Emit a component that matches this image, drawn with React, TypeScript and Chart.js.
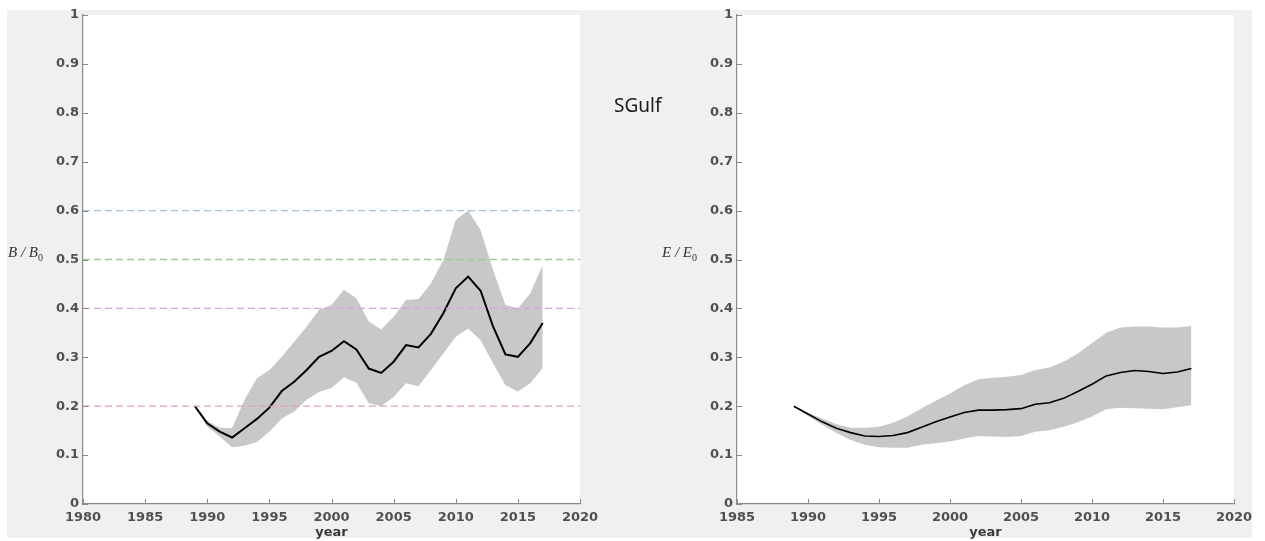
import React, { useEffect, useRef } from "react";
import { Chart, registerables } from "chart.js";

Chart.register(...registerables);

const years = [1989, 1990, 1991, 1992, 1993, 1994, 1995, 1996, 1997, 1998, 1999, 2000, 2001, 2002, 2003, 2004, 2005, 2006, 2007, 2008, 2009, 2010, 2011, 2012, 2013, 2014, 2015, 2016, 2017];

const bMedian = [0.200, 0.165, 0.148, 0.136, 0.155, 0.174, 0.197, 0.231, 0.250, 0.274, 0.301, 0.313, 0.333, 0.316, 0.277, 0.268, 0.291, 0.325, 0.320, 0.348, 0.390, 0.441, 0.465, 0.436, 0.363, 0.306, 0.301, 0.329, 0.370];
const bUpper = [0.200, 0.170, 0.156, 0.155, 0.213, 0.257, 0.274, 0.301, 0.332, 0.363, 0.397, 0.407, 0.438, 0.421, 0.373, 0.357, 0.383, 0.417, 0.419, 0.451, 0.499, 0.581, 0.600, 0.560, 0.479, 0.407, 0.400, 0.431, 0.489];
const bLower = [0.200, 0.158, 0.138, 0.116, 0.119, 0.127, 0.148, 0.175, 0.189, 0.213, 0.229, 0.237, 0.259, 0.248, 0.206, 0.200, 0.219, 0.247, 0.241, 0.274, 0.308, 0.342, 0.359, 0.335, 0.288, 0.243, 0.230, 0.247, 0.278];

const eMedian = [0.200, 0.184, 0.168, 0.155, 0.146, 0.139, 0.138, 0.140, 0.146, 0.157, 0.168, 0.178, 0.187, 0.192, 0.192, 0.193, 0.195, 0.204, 0.207, 0.216, 0.230, 0.245, 0.262, 0.269, 0.273, 0.271, 0.267, 0.270, 0.277];
const eUpper = [0.200, 0.186, 0.175, 0.163, 0.156, 0.156, 0.158, 0.166, 0.179, 0.196, 0.211, 0.226, 0.243, 0.255, 0.258, 0.260, 0.264, 0.274, 0.279, 0.291, 0.308, 0.329, 0.350, 0.361, 0.363, 0.363, 0.361, 0.361, 0.364];
const eLower = [0.200, 0.180, 0.162, 0.145, 0.131, 0.121, 0.116, 0.115, 0.115, 0.121, 0.124, 0.128, 0.134, 0.139, 0.138, 0.137, 0.139, 0.148, 0.151, 0.158, 0.167, 0.179, 0.194, 0.197, 0.196, 0.195, 0.194, 0.198, 0.202];

const refLevels = [0.6, 0.5, 0.4, 0.2];
const refColors = ["#9fc4dc", "#98cf98", "#dca0e2", "#e3a0b6"];

const yTickLabels = ["0", "0.1", "0.2", "0.3", "0.4", "0.5", "0.6", "0.7", "0.8", "0.9", "1"];

const TICK_FONT = { family: "'DejaVu Sans', sans-serif", size: 13, weight: "bold" };
const AXIS_COLOR = "#8a8a8a";

const matlabPlugin = {
  id: "matlabAxes",
  beforeDraw(chart: any) {
    const { ctx, chartArea } = chart;
    ctx.save();
    ctx.fillStyle = "#ffffff";
    ctx.fillRect(chartArea.left, chartArea.top, chartArea.right - chartArea.left, chartArea.bottom - chartArea.top);
    ctx.restore();
  },
  afterDraw(chart: any) {
    const { ctx } = chart;
    const xs = chart.scales.x;
    const ys = chart.scales.y;
    ctx.save();
    ctx.strokeStyle = AXIS_COLOR;
    ctx.lineWidth = 1;
    ys.ticks.forEach((t: any) => {
      const py = Math.round(ys.getPixelForValue(t.value)) + 0.5;
      ctx.beginPath();
      ctx.moveTo(xs.left, py);
      ctx.lineTo(xs.left + 5, py);
      ctx.stroke();
    });
    xs.ticks.forEach((t: any) => {
      const px = Math.round(xs.getPixelForValue(t.value)) + 0.5;
      ctx.beginPath();
      ctx.moveTo(px, ys.bottom);
      ctx.lineTo(px, ys.bottom - 5);
      ctx.stroke();
    });
    ctx.restore();
  },
};

type PanelProps = {
  left: number;
  width: number;
  yAxisWidth: number;
  padRight: number;
  xMin: number;
  median: number[];
  upper: number[];
  lower: number[];
  refs: number[];
  medianWidth: number;
};

function Panel(p: PanelProps) {
  const ref = useRef<HTMLCanvasElement | null>(null);
  useEffect(() => {
    if (!ref.current) return;
    const toPts = (vals: number[]) => years.map((yr, i) => ({ x: yr, y: vals[i] }));
    const datasets: any[] = [
      {
        data: toPts(p.upper),
        borderWidth: 0,
        pointRadius: 0,
        backgroundColor: "#c8c8c8",
        fill: "+1",
        order: 3,
      },
      {
        data: toPts(p.lower),
        borderWidth: 0,
        pointRadius: 0,
        fill: false,
        order: 4,
      },
      {
        data: toPts(p.median),
        borderColor: "#000000",
        borderWidth: p.medianWidth,
        pointRadius: 0,
        fill: false,
        order: 2,
      },
    ];
    p.refs.forEach((lv, i) => {
      datasets.push({
        data: [
          { x: p.xMin, y: lv },
          { x: 2020, y: lv },
        ],
        borderColor: refColors[i],
        borderWidth: 1.3,
        borderDash: [7, 4],
        pointRadius: 0,
        fill: false,
        order: 1,
      });
    });
    const chart = new Chart(ref.current, {
      type: "line",
      data: { datasets },
      options: {
        responsive: false,
        animation: false,
        layout: { padding: { top: 15, right: p.padRight, left: 0, bottom: 0 } },
        plugins: { legend: { display: false }, tooltip: { enabled: false } },
        scales: {
          x: {
            type: "linear",
            min: p.xMin,
            max: 2020,
            grid: { display: false, drawTicks: false },
            border: { display: true, color: AXIS_COLOR, width: 1.2 },
            ticks: {
              stepSize: 5,
              padding: 6,
              color: "#505050",
              font: TICK_FONT,
              maxRotation: 0,
              callback: (v: any) => String(v),
            },
            title: {
              display: true,
              text: "year",
              color: "#3a3a3a",
              font: { family: "'DejaVu Sans', sans-serif", size: 13, weight: "bold", lineHeight: 1 },
              padding: { top: 0, bottom: 2 },
            },
            afterFit: (s: any) => {
              s.height = 37;
            },
          },
          y: {
            type: "linear",
            min: 0,
            max: 1,
            grid: { display: false, drawTicks: false },
            border: { display: true, color: AXIS_COLOR, width: 1.2 },
            ticks: {
              stepSize: 0.1,
              padding: 4,
              color: "#505050",
              font: TICK_FONT,
              callback: (v: any, i: number) => yTickLabels[i],
            },
            afterFit: (s: any) => {
              s.width = p.yAxisWidth;
            },
          },
        },
      } as any,
      plugins: [matlabPlugin],
    });
    return () => chart.destroy();
  }, []);
  return (
    <canvas
      ref={ref}
      width={p.width}
      height={541}
      style={{ position: "absolute", left: p.left, top: 0, width: p.width, height: 541 }}
    />
  );
}

const serif = "'Liberation Serif', 'DejaVu Serif', serif";

export default function App() {
  return (
    <div style={{ position: "absolute", left: 0, top: 0, width: 1265, height: 541, background: "#ffffff", overflow: "hidden" }}>
      <div style={{ position: "absolute", left: 7, top: 10, width: 1245, height: 528, background: "#f0f0f0" }} />
      <Panel left={7} width={613} yAxisWidth={76} padRight={40} xMin={1980} median={bMedian} upper={bUpper} lower={bLower} refs={refLevels} medianWidth={2} />
      <Panel left={620} width={645} yAxisWidth={117} padRight={31} xMin={1985} median={eMedian} upper={eUpper} lower={eLower} refs={[]} medianWidth={1.6} />
      <div style={{ position: "absolute", left: 8, top: 243, fontFamily: serif, fontStyle: "italic", fontSize: 15, color: "#333", whiteSpace: "nowrap", lineHeight: "18px" }}>
        B / B<sub style={{ fontSize: 10, fontStyle: "normal" }}>0</sub>
      </div>
      <div style={{ position: "absolute", left: 662, top: 243, fontFamily: serif, fontStyle: "italic", fontSize: 15, color: "#333", whiteSpace: "nowrap", lineHeight: "18px" }}>
        E / E<sub style={{ fontSize: 10, fontStyle: "normal" }}>0</sub>
      </div>
      <div style={{ position: "absolute", left: 614, top: 93, fontFamily: "'Noto Sans', sans-serif", fontSize: 19, color: "#1a1a1a", whiteSpace: "nowrap", lineHeight: "24px" }}>
        SGulf
      </div>
    </div>
  );
}
